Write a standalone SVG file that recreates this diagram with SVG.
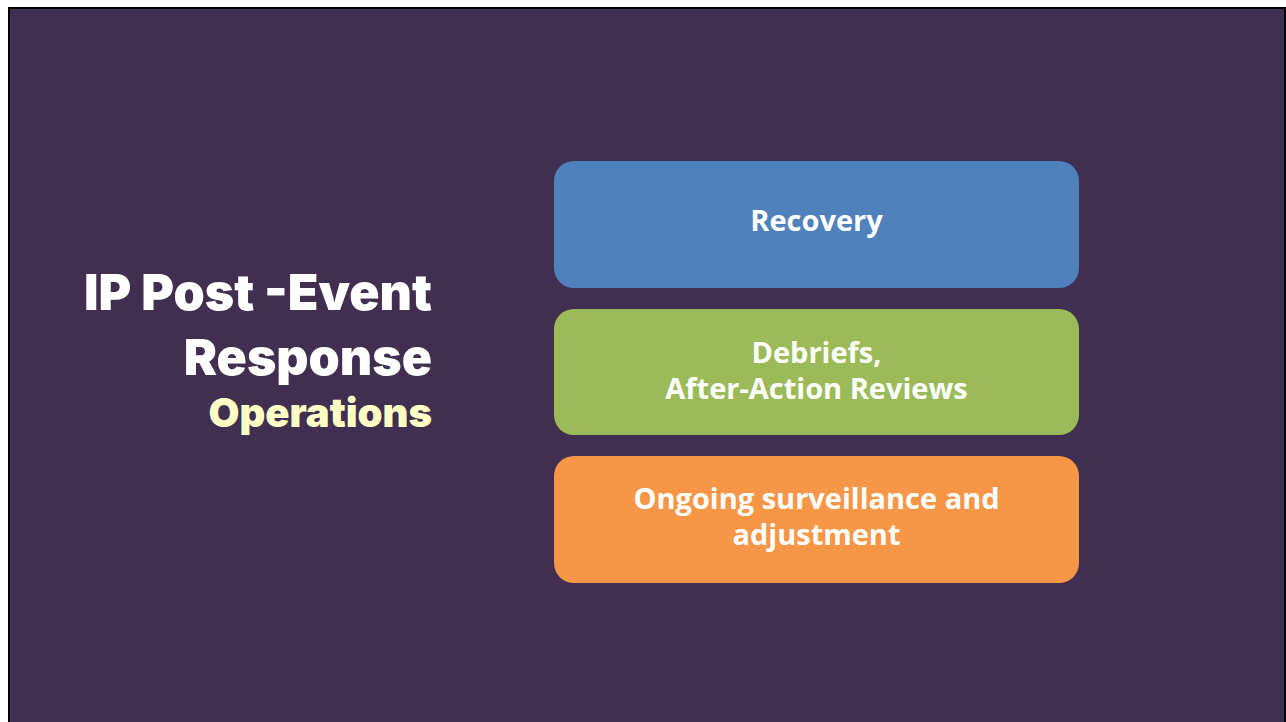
<svg xmlns="http://www.w3.org/2000/svg" width="1286" height="722" viewBox="0 0 1286 722">
<style>
.title{font-family:Inter,"Open Sans","Liberation Sans",sans-serif;font-weight:900;fill:#FFFFFF;text-anchor:end}
.sub{font-family:Inter,"Open Sans","Liberation Sans",sans-serif;font-weight:900;fill:#FFFFC5;text-anchor:end}
.box{stroke:none}
.lbl{font-family:"Open Sans","Liberation Sans",sans-serif;font-weight:700;font-size:29px;fill:#FFFFFF;text-anchor:middle}
</style>
<rect x="0" y="0" width="1286" height="722" fill="#FFFFFF"/>
<rect x="9" y="8" width="1276" height="720" fill="#402F50" stroke="#000000" stroke-width="2"/>
<g id="title">
<text class="title" x="432" y="310" font-size="50">IP Post -Event</text>
<text class="title" x="432" y="375" font-size="50">Response</text>
<text class="sub" x="432" y="427" font-size="40">Operations</text>
</g>
<g id="node-recovery">
<rect class="box" x="554" y="161" width="525" height="127" rx="20" fill="#4F81BD"/>
<text class="lbl" x="816.5" y="231">Recovery</text>
</g>
<g id="node-debriefs">
<rect class="box" x="554" y="309" width="525" height="126" rx="20" fill="#9BBB59"/>
<text class="lbl" x="816.5" y="363">Debriefs,</text>
<text class="lbl" x="816.5" y="399">After-Action Reviews</text>
</g>
<g id="node-surveillance">
<rect class="box" x="554" y="456" width="525" height="127" rx="20" fill="#F79646"/>
<text class="lbl" x="816.5" y="509">Ongoing surveillance and</text>
<text class="lbl" x="816.5" y="545">adjustment</text>
</g>
<g id="connectors"></g>
</svg>
